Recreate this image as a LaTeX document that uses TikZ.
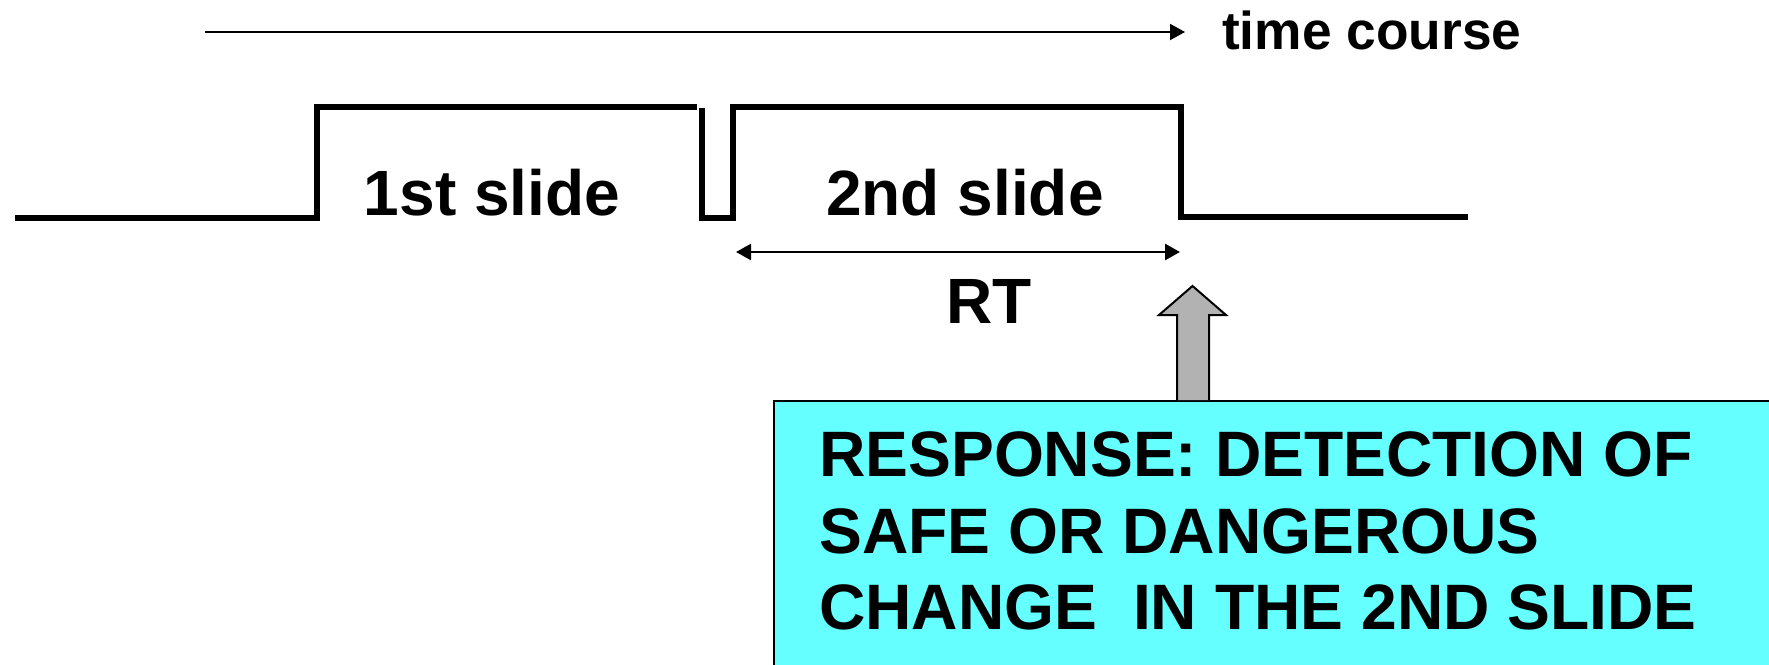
\documentclass[tikz,border=0pt]{standalone}
\usepackage{fontspec}
\setmainfont{Liberation Sans}
\usetikzlibrary{arrows.meta}
\definecolor{boxcyan}{RGB}{102,255,255}
\definecolor{arrowgray}{RGB}{178,178,178}
\begin{document}
\begin{tikzpicture}[x=1pt,y=-1pt,
  wave/.style={line width=5.3pt, line join=miter},
  tipped/.style={line width=2pt, -{Triangle[length=15pt,width=16pt]}},
  twotipped/.style={line width=2.5pt, {Triangle[length=15pt,width=16pt]}-{Triangle[length=15pt,width=16pt]}},
  big/.style={inner sep=0pt, font=\bfseries\fontsize{64}{76}\selectfont},
  boxline/.style={inner sep=0pt, anchor=base west, font=\bfseries\fontsize{64.2}{76}\selectfont}]
\useasboundingbox (0,0) rectangle (1769,664);
\clip (0,0) rectangle (1769,664);

% time axis
\coordinate (t0) at (205,32);
\coordinate (t1) at (1185,32);
\draw[tipped] (t0) -- (t1);
\node[inner sep=0pt, anchor=base west, font=\bfseries\fontsize{53.3}{60}\selectfont] (tc) at (1222,49) {time course};

% stimulus trace: 1st slide, short blank, 2nd slide
\draw[wave] (15,218) -- (317,218) -- (317,107) -- (697,107);
\draw[wave] (702,108) -- (702,218) -- (733,218) -- (733,107) -- (1181,107) -- (1181,217) -- (1468,217);
\node[big, anchor=base] (s1) at (492,215) {1st slide};
\node[big, anchor=base] (s2) at (965,215) {2nd slide};

% reaction time span
\coordinate (rt0) at (736,252);
\coordinate (rt1) at (1180,252);
\draw[twotipped] (rt0) -- (rt1);
\node[big, anchor=base] (rt) at (989,323) {RT};

% response box
\node[draw, line width=2pt, fill=boxcyan, anchor=north west, inner sep=0pt,
      minimum width=1100pt, minimum height=300pt] (resp) at (773,400) {};
\node[boxline] (l1) at (819,476.7) {RESPONSE: DETECTION OF};
\node[boxline] (l2) at (819,553.3) {SAFE OR DANGEROUS};
\node[boxline] (l3) at (819,629.3) {CHANGE\ \ IN THE 2ND SLIDE};

% block arrow from the response box up to the end of the 2nd slide
\coordinate (tip) at (1192.5,286);
\draw[line width=2pt, fill=arrowgray, line join=miter]
  (resp.north west -| 1177,0) -- (1177,315) -- (1159,315) -- (tip)
  -- (1226,315) -- (1209,315) -- (resp.north west -| 1209,0);
\end{tikzpicture}
\end{document}
